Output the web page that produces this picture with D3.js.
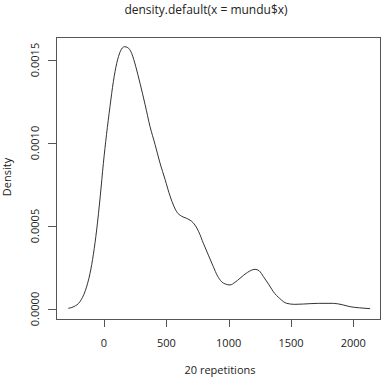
<!DOCTYPE html>
<html>
<head>
<meta charset="utf-8">
<script src="https://cdn.jsdelivr.net/npm/d3@7"></script>
<style>
  body { margin: 0; background: #fff; }
  text { font-family: "Open Sans", sans-serif; fill: #222; }
</style>
</head>
<body>
<script>
'use strict';

const width = 382, height = 378;

// density estimate
const xs = [-286, -240, -193, -150, -112, -85, -59, -30, -5, 20, 48, 75, 102, 130, 163, 190, 222, 255, 289, 330, 369, 410, 449, 490, 530, 560, 583, 620, 663, 700, 730, 760, 797, 840, 877, 910, 944, 975, 1011, 1050, 1091, 1150, 1212, 1245, 1279, 1320, 1359, 1410, 1466, 1530, 1600, 1720, 1840, 1910, 1974, 2050, 2135];
const ys = [0.000004, 0.000015, 0.000044, 0.00011, 0.000215, 0.00033, 0.000476, 0.00068, 0.000878, 0.00105, 0.001219, 0.00137, 0.00148, 0.00155, 0.00158, 0.001575, 0.00154, 0.00146, 0.00136, 0.00123, 0.0011, 0.00099, 0.00088, 0.00078, 0.00068, 0.00062, 0.000586, 0.00056, 0.000546, 0.00053, 0.000506, 0.000465, 0.000396, 0.00032, 0.000255, 0.0002, 0.000164, 0.00015, 0.000145, 0.00016, 0.000185, 0.00022, 0.000239, 0.00023, 0.000195, 0.00015, 0.000104, 0.000063, 0.000034, 0.000028, 0.00003, 0.000034, 0.000034, 0.000026, 0.000014, 0.000007, 0.000002];
const xTicks = [0, 500, 1000, 1500, 2000];
const yTicks = [0, 0.0005, 0.0010, 0.0015];

const plot = { left: 56, right: 381, top: 37, bottom: 319 };

const x = d3.scaleLinear().domain([0, 2000]).range([104, 353.3]);
const y = d3.scaleLinear().domain([0, 0.0015]).range([309, 60]);

const svg = d3.select('body').append('svg')
  .attr('width', width)
  .attr('height', height);

svg.append('rect')
  .attr('x', plot.left + 0.5)
  .attr('y', plot.top + 0.5)
  .attr('width', plot.right - plot.left - 1)
  .attr('height', plot.bottom - plot.top)
  .attr('fill', 'none')
  .attr('stroke', '#555')
  .attr('stroke-width', 1);

const line = d3.line()
  .x((d, i) => x(xs[i]))
  .y(d => y(d))
  .curve(d3.curveMonotoneX);

svg.append('path')
  .datum(ys)
  .attr('d', line)
  .attr('fill', 'none')
  .attr('stroke', '#333')
  .attr('stroke-width', 1);

// x axis
const xAxis = svg.append('g');
xAxis.selectAll('line').data(xTicks).join('line')
  .attr('x1', d => Math.round(x(d)) + 0.5)
  .attr('x2', d => Math.round(x(d)) + 0.5)
  .attr('y1', plot.bottom + 1)
  .attr('y2', plot.bottom + 8)
  .attr('stroke', '#555');
xAxis.selectAll('text').data(xTicks).join('text')
  .attr('x', d => x(d))
  .attr('y', 347)
  .attr('text-anchor', 'middle')
  .attr('font-size', 11)
  .text(d => d);

// y axis
const yAxis = svg.append('g');
yAxis.selectAll('line').data(yTicks).join('line')
  .attr('x1', plot.left - 8)
  .attr('x2', plot.left)
  .attr('y1', d => Math.round(y(d)) + 0.5)
  .attr('y2', d => Math.round(y(d)) + 0.5)
  .attr('stroke', '#555');
yAxis.selectAll('text').data(yTicks).join('text')
  .attr('transform', d => `translate(39,${y(d)}) rotate(-90)`)
  .attr('text-anchor', 'middle')
  .attr('font-size', 11)
  .text(d => d.toFixed(4));

svg.append('text')
  .attr('x', 206)
  .attr('y', 14)
  .attr('text-anchor', 'middle')
  .attr('font-size', 12)
  .text('density.default(x = mundu$x)');

svg.append('text')
  .attr('x', 220)
  .attr('y', 374)
  .attr('text-anchor', 'middle')
  .attr('font-size', 11)
  .text('20 repetitions');

svg.append('text')
  .attr('transform', 'translate(11,177) rotate(-90)')
  .attr('text-anchor', 'middle')
  .attr('font-size', 11)
  .text('Density');
</script>
</body>
</html>
